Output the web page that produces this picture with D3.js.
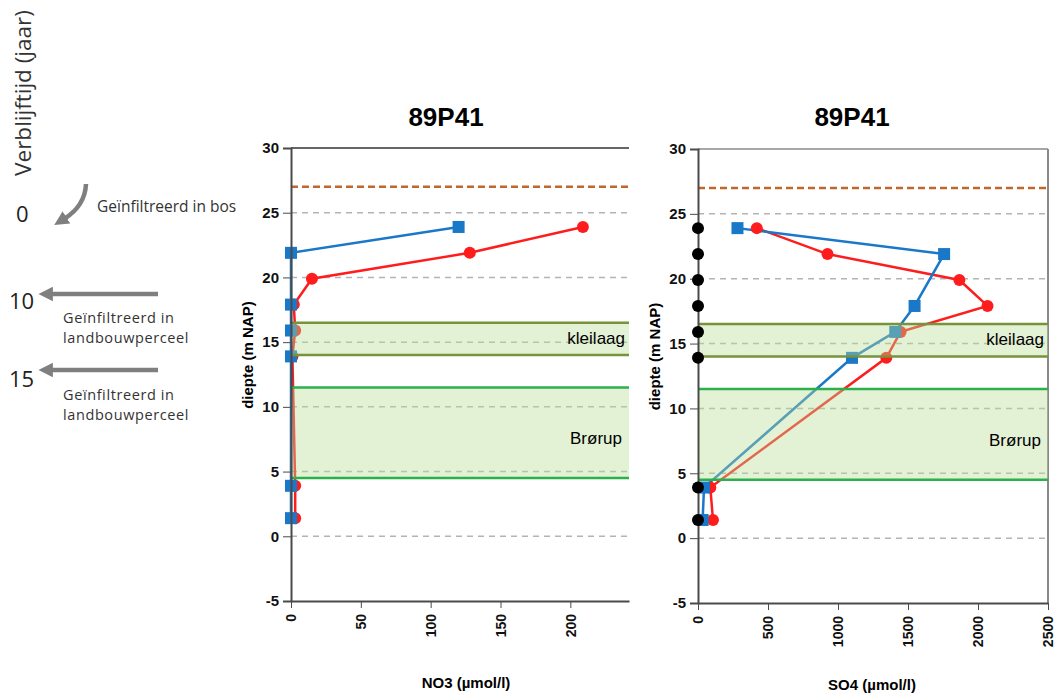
<!DOCTYPE html>
<html>
<head>
<meta charset="utf-8">
<script src="https://cdn.jsdelivr.net/npm/d3@7"></script>
<style>
  body { margin: 0; background: #fff; }
  svg text { font-family: "Liberation Sans", Arial, sans-serif; }
  .axis path, .axis line { stroke: #4a4a4a; }
  .axis text { font-weight: bold; font-size: 15px; fill: #111; }
  .x.axis text { font-size: 14px; }
  .note { font-family: "Open Sans", sans-serif !important; fill: #333; }
</style>
</head>
<body>
<div class="graph"></div>
<script>
// depths (m NAP) of the filters
var depthRed = [23.9, 21.9, 19.9, 17.9, 15.9, 13.9, 3.9, 1.4],
    depthBlue = [23.9, 21.9, 17.9, 15.9, 13.9, 3.9, 1.4],
    no3Red = [209, 128, 15, 2, 3, 1, 3, 3],
    no3Blue = [120, 0, 0, 0, 0, 0, 0],
    so4Red = [420, 925, 1867, 2068, 1447, 1345, 88, 107],
    so4Blue = [282, 1758, 1547, 1409, 1100, 43, 33],
    so4Black = [0, 0, 0, 0, 0, 0, 0, 0],
    yTicks = [-5, 0, 5, 10, 15, 20, 25, 30],
    no3Ticks = [0, 50, 100, 150, 200],
    so4Ticks = [0, 500, 1000, 1500, 2000, 2500],
    gridLines = [0, 5, 10, 15, 20, 25],
    layers = [
      { name: "kleilaag", top: 16.5, bottom: 14, border: "#77933c" },
      { name: "Brørup", top: 11.5, bottom: 4.5, border: "#2bb14c" }
    ],
    groundLevel = 27;

var svg = d3.select(".graph").append("svg")
    .attr("width", 1056)
    .attr("height", 693);

function toPoints(xs, ys) {
  return xs.map(function(v, i) { return { x: v, y: ys[i] }; });
}

function plain(d) { return String(d); }

function drawProfile(opt) {
  var xScale = d3.scaleLinear().domain(opt.xDomain).range([opt.left, opt.right]),
      yScale = d3.scaleLinear().domain([-5, 30]).range([opt.bottom, opt.top]);

  var g = svg.append("g");

  // dashed grid
  g.selectAll(".grid").data(gridLines).enter().append("line")
    .attr("x1", opt.left).attr("x2", opt.right)
    .attr("y1", function(d) { return yScale(d); })
    .attr("y2", function(d) { return yScale(d); })
    .attr("stroke", "#b4b4b4").attr("stroke-width", 1.5)
    .attr("stroke-dasharray", "6,5");

  // ground level
  g.append("line")
    .attr("x1", opt.left).attr("x2", opt.right)
    .attr("y1", yScale(groundLevel)).attr("y2", yScale(groundLevel))
    .attr("stroke", "#c0672b").attr("stroke-width", 2.5)
    .attr("stroke-dasharray", "7,4");

  // top (and right) border
  g.append("line")
    .attr("x1", opt.left).attr("x2", opt.right)
    .attr("y1", opt.top).attr("y2", opt.top)
    .attr("stroke", opt.borderColor).attr("stroke-width", 1.5);
  if (opt.rightBorder) {
    g.append("line")
      .attr("x1", opt.right).attr("x2", opt.right)
      .attr("y1", opt.top).attr("y2", opt.bottom)
      .attr("stroke", "#8a8a8a").attr("stroke-width", 2);
  }

  var line = d3.line()
    .x(function(d) { return xScale(d.x); })
    .y(function(d) { return yScale(d.y); });

  var red = toPoints(opt.red, depthRed),
      blue = toPoints(opt.blue, depthBlue);

  g.append("path").datum(red)
    .attr("d", line).attr("fill", "none")
    .attr("stroke", "#ff1c1c").attr("stroke-width", 2.5);
  g.append("path").datum(blue)
    .attr("d", line).attr("fill", "none")
    .attr("stroke", "#1a78c8").attr("stroke-width", 2.5);

  g.selectAll(".red").data(red).enter().append("circle")
    .attr("cx", function(d) { return xScale(d.x); })
    .attr("cy", function(d) { return yScale(d.y); })
    .attr("r", 6).attr("fill", "#ff1c1c");
  g.selectAll(".blue").data(blue).enter().append("rect")
    .attr("x", function(d) { return xScale(d.x) - 6; })
    .attr("y", function(d) { return yScale(d.y) - 6; })
    .attr("width", 12).attr("height", 12)
    .attr("fill", "#1a78c8");

  // clay layer and aquifer bands sit over the lines
  layers.forEach(function(l) {
    g.append("rect")
      .attr("x", opt.left).attr("width", opt.right - opt.left)
      .attr("y", yScale(l.top)).attr("height", yScale(l.bottom) - yScale(l.top))
      .attr("fill", "#b9dc96").attr("fill-opacity", 0.4);
    [l.top, l.bottom].forEach(function(v) {
      g.append("line")
        .attr("x1", opt.left).attr("x2", opt.right)
        .attr("y1", yScale(v)).attr("y2", yScale(v))
        .attr("stroke", l.border).attr("stroke-width", 2.5);
    });
  });
  g.append("text")
    .attr("x", opt.right - 4).attr("y", yScale(15.25) + 5)
    .attr("text-anchor", "end").attr("font-size", 17)
    .text(layers[0].name);
  g.append("text")
    .attr("x", opt.right - 7).attr("y", yScale(7.6) + 6)
    .attr("text-anchor", "end").attr("font-size", 17)
    .text(layers[1].name);

  // axes
  var yAxis = d3.axisLeft(yScale).tickValues(yTicks).tickFormat(plain)
    .tickSize(8).tickPadding(4);
  g.append("g")
    .attr("class", "y axis")
    .attr("transform", "translate(" + opt.left + ",0)")
    .call(yAxis)
    .call(function(s) { s.select(".domain").attr("stroke-width", 2); });

  var xAxis = d3.axisBottom(xScale).tickValues(opt.xTicks).tickFormat(plain)
    .tickSize(7).tickSizeOuter(0);
  var xg = g.append("g")
    .attr("class", "x axis")
    .attr("transform", "translate(0," + opt.bottom + ")")
    .call(xAxis);
  xg.select(".domain").attr("stroke-width", 2);
  xg.selectAll(".tick text")
    .attr("transform", "rotate(-90)")
    .attr("text-anchor", "end")
    .attr("x", -13).attr("y", 0).attr("dy", "0.35em");

  if (opt.black) {
    g.selectAll(".black").data(toPoints(opt.black, depthRed)).enter().append("circle")
      .attr("cx", function(d) { return xScale(d.x); })
      .attr("cy", function(d) { return yScale(d.y); })
      .attr("r", 6).attr("fill", "#000");
  }

  // titles
  g.append("text")
    .attr("x", opt.titleX).attr("y", 126)
    .attr("text-anchor", "middle")
    .attr("font-size", 26).attr("font-weight", "bold")
    .text("89P41");
  g.append("text")
    .attr("x", opt.titleX + 20).attr("y", opt.bottom + 87)
    .attr("text-anchor", "middle")
    .attr("font-size", 15).attr("font-weight", "bold")
    .text(opt.xLabel);
  g.append("text")
    .attr("transform", "translate(" + (opt.left - 38) + "," + yScale(14) + ") rotate(-90)")
    .attr("text-anchor", "middle")
    .attr("font-size", 15).attr("font-weight", "bold")
    .text("diepte (m NAP)");
}

drawProfile({
  left: 291, right: 629, top: 148, bottom: 601,
  xDomain: [0, 242], xTicks: no3Ticks,
  red: no3Red, blue: no3Blue,
  borderColor: "#333", rightBorder: false,
  titleX: 446, xLabel: "NO3 (µmol/l)"
});

drawProfile({
  left: 698, right: 1048, top: 149, bottom: 603,
  xDomain: [0, 2500], xTicks: so4Ticks,
  red: so4Red, blue: so4Blue, black: so4Black,
  borderColor: "#8a8a8a", rightBorder: true,
  titleX: 852, xLabel: "SO4 (µmol/l)"
});

// residence time notes on the left
var notes = svg.append("g");
svg.append("defs").append("marker")
  .attr("id", "head")
  .attr("viewBox", "0 0 10 10")
  .attr("refX", 2).attr("refY", 5)
  .attr("markerWidth", 3.2).attr("markerHeight", 3.8)
  .attr("orient", "auto")
  .append("path").attr("d", "M0,0 L10,5 L0,10 Z").attr("fill", "#7f7f7f");

notes.append("text").attr("class", "note")
  .attr("transform", "translate(31,93) rotate(-90)")
  .attr("text-anchor", "middle").attr("font-size", 22.5)
  .text("Verblijftijd (jaar)");

var years = [{ t: "0", y: 222, x: 16 }, { t: "10", y: 309, x: 9 }, { t: "15", y: 387, x: 9 }];
notes.selectAll(".yr").data(years).enter().append("text")
  .attr("class", "note")
  .attr("x", function(d) { return d.x; }).attr("y", function(d) { return d.y; })
  .attr("font-size", 22).style("fill", "#222")
  .text(function(d) { return d.t; });

notes.append("path")
  .attr("d", "M86,184 Q85,206 64,219")
  .attr("fill", "none").attr("stroke", "#7f7f7f").attr("stroke-width", 4.5)
  .attr("marker-end", "url(#head)");
[294, 370].forEach(function(y) {
  notes.append("line")
    .attr("x1", 158).attr("x2", 50).attr("y1", y).attr("y2", y)
    .attr("stroke", "#7f7f7f").attr("stroke-width", 4.5)
    .attr("marker-end", "url(#head)");
});

var noteLines = [
  { t: "Geïnfiltreerd in bos", x: 97, y: 212, size: 15.5 },
  { t: "Geïnfiltreerd in", x: 63, y: 323, size: 14.5 },
  { t: "landbouwperceel", x: 63, y: 343, size: 14.5 },
  { t: "Geïnfiltreerd in", x: 63, y: 400, size: 14.5 },
  { t: "landbouwperceel", x: 63, y: 420, size: 14.5 }
];
notes.selectAll(".nl").data(noteLines).enter().append("text")
  .attr("class", "note")
  .attr("x", function(d) { return d.x; }).attr("y", function(d) { return d.y; })
  .attr("font-size", function(d) { return d.size; })
  .attr("letter-spacing", function(d) { return d.size < 15 ? 0.6 : 0; })
  .text(function(d) { return d.t; });
</script>
</body>
</html>
